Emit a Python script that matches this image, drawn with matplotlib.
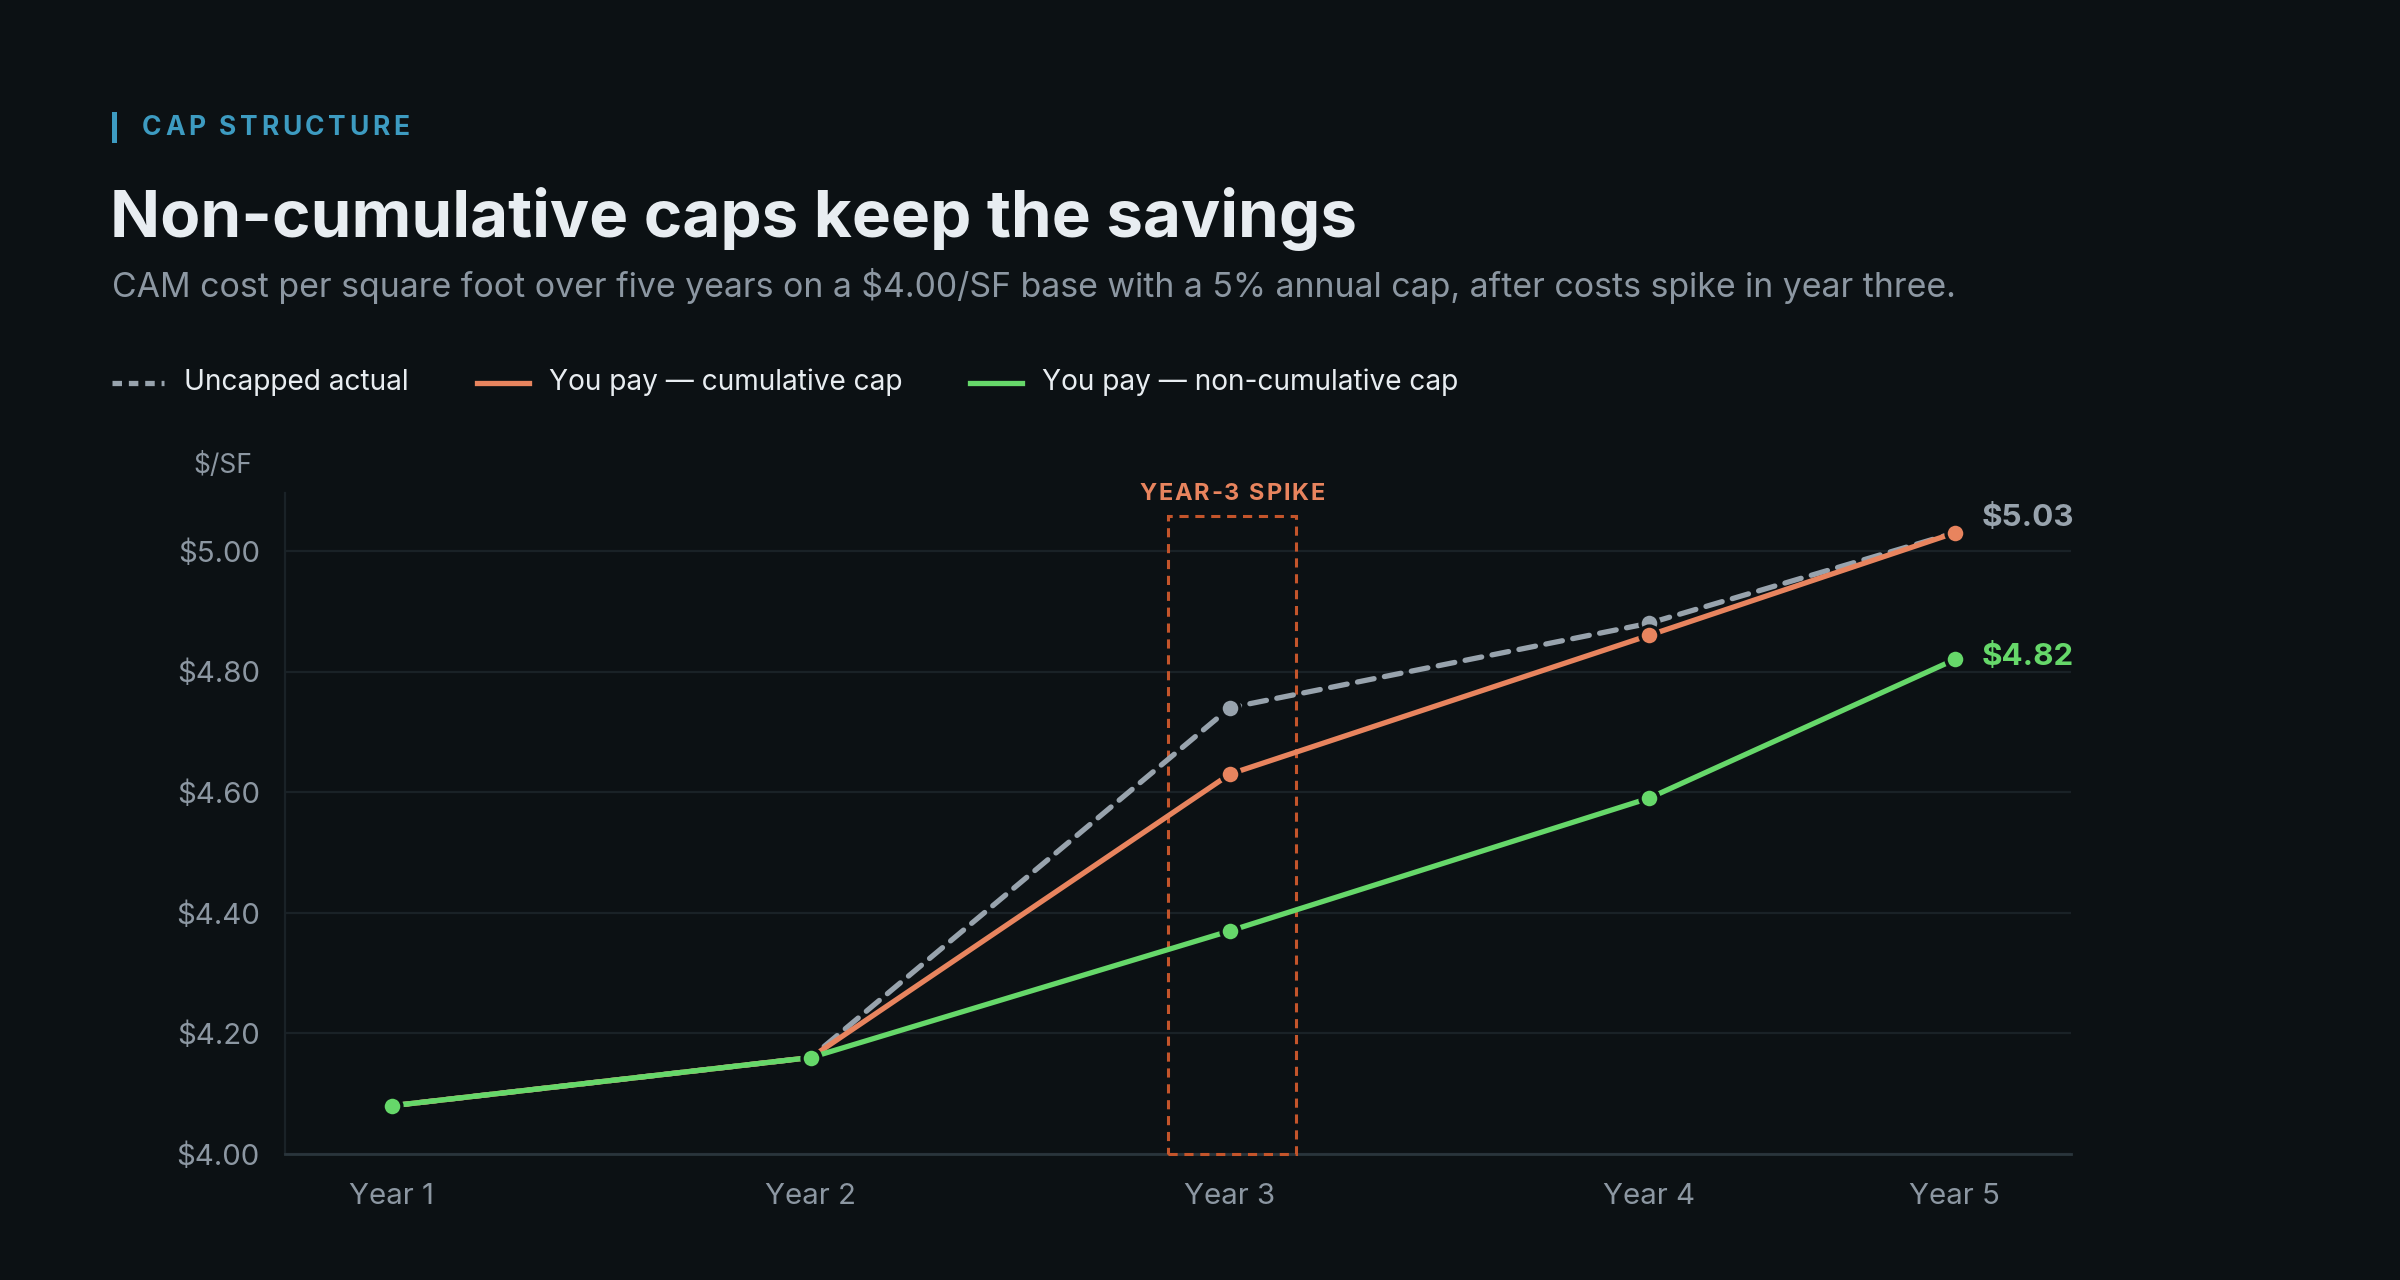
import matplotlib
matplotlib.use("Agg")
import matplotlib.pyplot as plt
from matplotlib.lines import Line2D
from matplotlib.patches import Rectangle

# data
years = ["Year 1", "Year 2", "Year 3", "Year 4", "Year 5"]
year_pos = [0, 1, 2, 3, 3.73]
uncapped = [4.08, 4.16, 4.74, 4.88, 5.03]
cumulative = [4.08, 4.16, 4.63, 4.86, 5.03]
non_cumulative = [4.08, 4.16, 4.37, 4.59, 4.82]
y_ticks = [4.0, 4.2, 4.4, 4.6, 4.8, 5.0]
spike_year = 2

BG = "#0c1114"
GRID = "#1a2227"
AXIS = "#2a353c"
MUTED = "#8c97a2"
WHITE = "#e8edf1"
BLUE = "#3d9bc1"
GRAY = "#98a3ad"
ORANGE = "#e8845e"
GREEN = "#66d86a"
BOX = "#c4552b"

plt.rcParams["font.family"] = ["Inter", "DejaVu Sans"]

W, H = 2400, 1280
fig = plt.figure(figsize=(12, 6.4), dpi=200, facecolor=BG)
renderer = fig.canvas.get_renderer()


def fx(px):
    return px / W


def fy(py):
    return 1 - py / H


def text_w(s, **kw):
    t = fig.text(0, 0, s, **kw)
    w = t.get_window_extent(renderer).width
    t.remove()
    return w


def spaced_text(x_px, y_px, s, track, ha="left", **kw):
    # matplotlib has no letter-spacing, so lay out glyph by glyph
    lefts = []
    for i, ch in enumerate(s):
        lefts.append(text_w(s[:i + 1], **kw) - text_w(ch, **kw) + i * track)
    total = text_w(s, **kw) + (len(s) - 1) * track
    x0 = x_px - total / 2 if ha == "center" else x_px
    for ch, lx in zip(s, lefts):
        if ch != " ":
            fig.text(fx(x0 + lx), fy(y_px), ch, ha="left", va="center", **kw)


# header
fig.add_artist(Rectangle((fx(112), fy(143)), fx(5), 31 / H, transform=fig.transFigure,
                         color=BLUE, lw=0))
spaced_text(142, 128, "CAP STRUCTURE", 3.6, fontsize=9.5, fontweight="bold", color=BLUE)
fig.text(fx(110), fy(237), "Non-cumulative caps keep the savings", fontsize=23.6,
         fontweight="bold", color=WHITE, va="baseline", ha="left")
fig.text(fx(112), fy(286), "CAM cost per square foot over five years on a $4.00/SF base "
         "with a 5% annual cap, after costs spike in year three.",
         fontsize=12.2, color=MUTED, va="center", ha="left")

# legend
legend_items = [("Uncapped actual", GRAY, (0, (1.8, 1.3))),
                ("You pay \u2014 cumulative cap", ORANGE, "-"),
                ("You pay \u2014 non-cumulative cap", GREEN, "-")]
lx = 112
for label, col, ls in legend_items:
    fig.add_artist(Line2D([fx(lx), fx(lx + 52)], [fy(383), fy(383)], color=col, lw=1.9,
                          ls=ls, transform=fig.transFigure))
    fig.text(fx(lx + 72), fy(382), label, fontsize=10.1, color=WHITE, va="center", ha="left")
    lx += 72 + text_w(label, fontsize=10.1) + 68

# chart
ax = fig.add_axes([fx(285), fy(1154), fx(2071) - fx(285), (1154 - 493) / H])
ax.set_facecolor(BG)
ax.set_xlim(-0.255, 4.007)
ax.set_ylim(4.0, 5.096)

for sp in ["top", "right"]:
    ax.spines[sp].set_visible(False)
ax.spines["left"].set_color(GRID)
ax.spines["left"].set_linewidth(0.8)
ax.spines["bottom"].set_color(AXIS)
ax.spines["bottom"].set_linewidth(1.0)

ax.set_yticks(y_ticks)
ax.set_yticklabels([f"${v:.2f}" for v in y_ticks])
ax.set_xticks(year_pos)
ax.set_xticklabels(years)
ax.tick_params(axis="both", length=0, labelsize=10.6, labelcolor=MUTED)
ax.tick_params(axis="y", pad=9)
ax.tick_params(axis="x", pad=10.5)
ax.grid(axis="y", color=GRID, lw=0.8)
ax.set_axisbelow(True)

ax.text(-0.035, 1.0 + 27 / 661, "$/SF", transform=ax.transAxes, fontsize=9.5,
        color=MUTED, ha="center", va="center")

# year-3 spike box
ax.add_patch(Rectangle((spike_year - 0.148, 4.0), 0.305, 1.058, fill=False, ec=BOX,
                       lw=1.1, ls=(0, (3, 2.2)), zorder=2.6, clip_on=False))
spaced_text(1232, 494, "YEAR-3 SPIKE", 1.9, ha="center", fontsize=8.5,
            fontweight="bold", color=ORANGE)

mk = dict(marker="o", ms=6.8, mec=BG, mew=1.2, zorder=3)
ax.plot(year_pos, uncapped, color=GRAY, lw=1.9, ls=(0, (3.2, 2.0)), mfc=GRAY,
        dash_capstyle="round", **mk)
ax.plot(year_pos, cumulative, color=ORANGE, lw=1.9, mfc=ORANGE, **mk)
ax.plot(year_pos, non_cumulative, color=GREEN, lw=1.9, mfc=GREEN, **mk)

ax.annotate(f"${uncapped[-1]:.2f}", (year_pos[-1], uncapped[-1]), xytext=(9.5, 5.5),
            textcoords="offset points", fontsize=11.3, fontweight="bold", color=GRAY,
            ha="left", va="center")
ax.annotate(f"${non_cumulative[-1]:.2f}", (year_pos[-1], non_cumulative[-1]),
            xytext=(9.5, 1), textcoords="offset points", fontsize=11.3,
            fontweight="bold", color=GREEN, ha="left", va="center")

fig.savefig("out.png", dpi=200, facecolor=BG)
